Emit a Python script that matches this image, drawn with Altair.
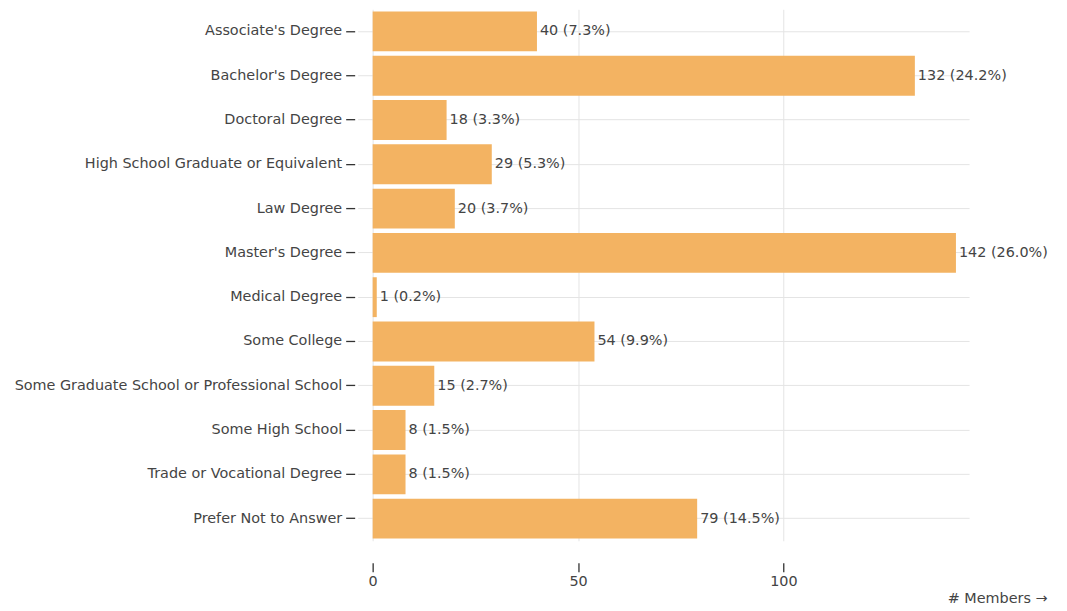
import altair as alt
import pandas as pd

categories = [
    "Associate's Degree", "Bachelor's Degree", "Doctoral Degree",
    "High School Graduate or Equivalent", "Law Degree", "Master's Degree",
    "Medical Degree", "Some College", "Some Graduate School or Professional School",
    "Some High School", "Trade or Vocational Degree", "Prefer Not to Answer",
]
members = [40, 132, 18, 29, 20, 142, 1, 54, 15, 8, 8, 79]
labels = ["40 (7.3%)", "132 (24.2%)", "18 (3.3%)", "29 (5.3%)", "20 (3.7%)",
          "142 (26.0%)", "1 (0.2%)", "54 (9.9%)", "15 (2.7%)", "8 (1.5%)",
          "8 (1.5%)", "79 (14.5%)"]
x_ticks = [0, 50, 100]

df = pd.DataFrame({"cat": categories, "n": members, "label": labels})

FONT = "DejaVu Sans"
FS = 14.4
TXT = "#444"
COLOR = "#f3b362"

x_scale = alt.Scale(domain=[-3.65, 145.2], nice=False, zero=False)
y_scale = alt.Scale(domain=categories, paddingInner=0.1, paddingOuter=0.05)

base = alt.Chart(df)

bars = base.mark_bar(color=COLOR).encode(
    x=alt.X("n:Q", scale=x_scale,
            axis=alt.Axis(values=x_ticks, title="# Members →", domain=False,
                          offset=22, tickSize=9, tickColor="#333", tickWidth=1.3,
                          labelPadding=3, gridColor="#e4e4e4",
                          titleAnchor="end", titleAlign="right",
                          titleBaseline="middle",
                          titleX=690, titleY=36, titleFontWeight="normal",
                          titleFontSize=FS, titleColor=TXT)),
    x2=alt.datum(0),
    y=alt.Y("cat:N", scale=y_scale, sort=categories,
            axis=alt.Axis(title=None, domain=False, offset=3, tickSize=9,
                          tickColor="#333", tickWidth=1.3, labelPadding=4,
                          labelLimit=400, grid=True,
                          gridColor="#e4e4e4", bandPosition=0.5)),
)

text = base.mark_text(align="left", baseline="middle", dx=3, font=FONT,
                      fontSize=FS, color=TXT).encode(
    x=alt.X("n:Q", scale=x_scale),
    y=alt.Y("cat:N", scale=y_scale, sort=categories),
    text="label:N",
)

chart = alt.layer(bars, text).properties(
    width=612, height=532,
    autosize=alt.AutoSizeParams(type="none"),
    padding={"left": 350, "top": 1, "right": 90, "bottom": 66},
).configure_view(stroke=None).configure_axis(
    labelFont=FONT, labelFontSize=FS, labelColor=TXT,
    titleFont=FONT,
)

chart.save("out.html", embed_options={"renderer": "svg", "actions": False})
